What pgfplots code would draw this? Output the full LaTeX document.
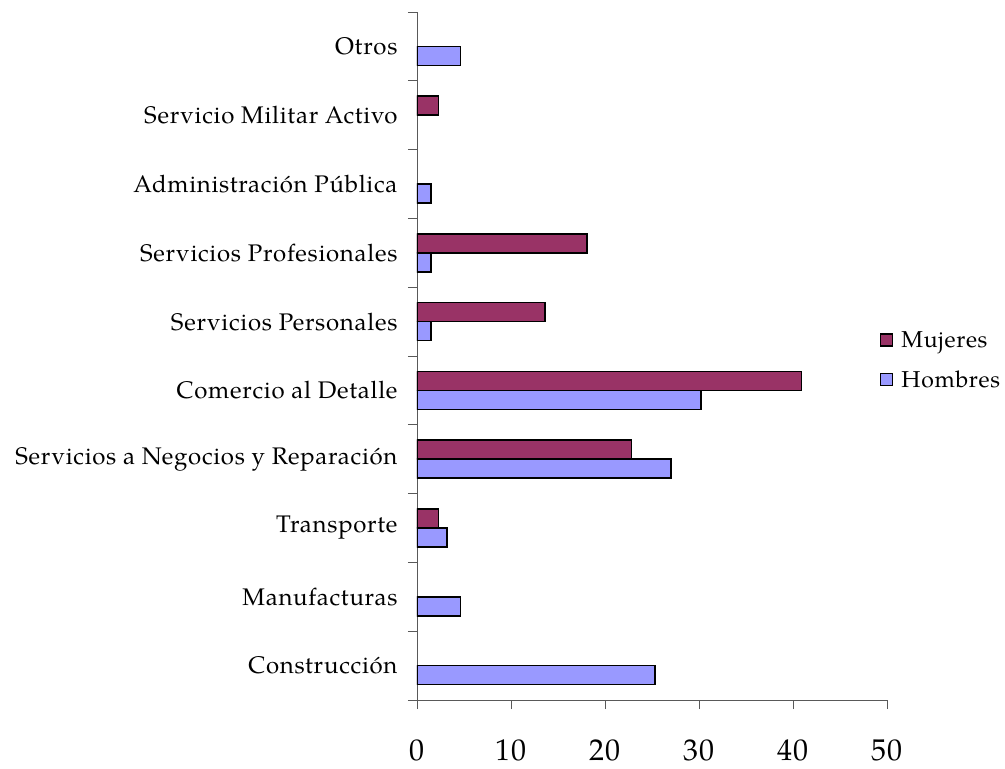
\documentclass[border=0pt]{standalone}
\usepackage{fontspec}
\setmainfont[LetterSpace=3]{TeX Gyre Pagella}
\usepackage{pgfplots}
\pgfplotsset{compat=1.18}
\definecolor{muj}{HTML}{993366}
\definecolor{hom}{HTML}{9999FF}
\begin{document}
\begin{tikzpicture}
\path[use as bounding box] (0,0) rectangle (1005pt,769pt);
\begin{axis}[
  at={(417pt,69pt)}, anchor=south west,
  scale only axis, width=470pt, height=688pt,
  xmin=0, xmax=50, ymin=-0.5, ymax=9.5,
  xbar, bar width=19pt,
  axis lines=left, axis line style={-, line width=0.8pt, gray!70!black},
  /pgf/number format/assume math mode=true,
  xtick={0,10,20,30,40,50},
  tick align=outside,
  major tick length=9pt,
  tick style={line width=0.8pt, gray!70!black},
  xticklabel style={font=\fontsize{30}{36}\selectfont, yshift=-27pt},
  ytick={-0.5,0.5,...,9.5},
  y tick label as interval,
  yticklabels={Construcción, Manufacturas, Transporte, Servicios a Negocios y Reparación, Comercio al Detalle, Servicios Personales, Servicios Profesionales, Administración Pública, Servicio Militar Activo, Otros},
  yticklabel style={font=\fontsize{24}{28}\selectfont, xshift=-7pt},
  legend style={draw=none, fill=none, at={(0.985,0.494)}, anchor=west,
    font=\fontsize{23}{27}\selectfont, row sep=18pt, inner sep=0pt},
  legend cell align=left,
  legend image code/.code={\draw[#1, line width=1.2pt] (0pt,-6pt) rectangle (12pt,6pt); \path (18pt,0pt);},
]
\addplot[fill=muj, draw=black, line width=1.5pt, bar shift=9.5pt] coordinates {
 (2.3,2) (22.8,3) (40.9,4) (13.6,5) (18.1,6) (2.3,8)};
\addplot[fill=hom, draw=black, line width=1.5pt, bar shift=-9.5pt] coordinates {
 (25.3,0) (4.65,1) (3.2,2) (27.0,3) (30.2,4) (1.5,5) (1.5,6) (1.5,7) (4.65,9)};
\legend{Mujeres, Hombres}
\end{axis}
\end{tikzpicture}
\end{document}
